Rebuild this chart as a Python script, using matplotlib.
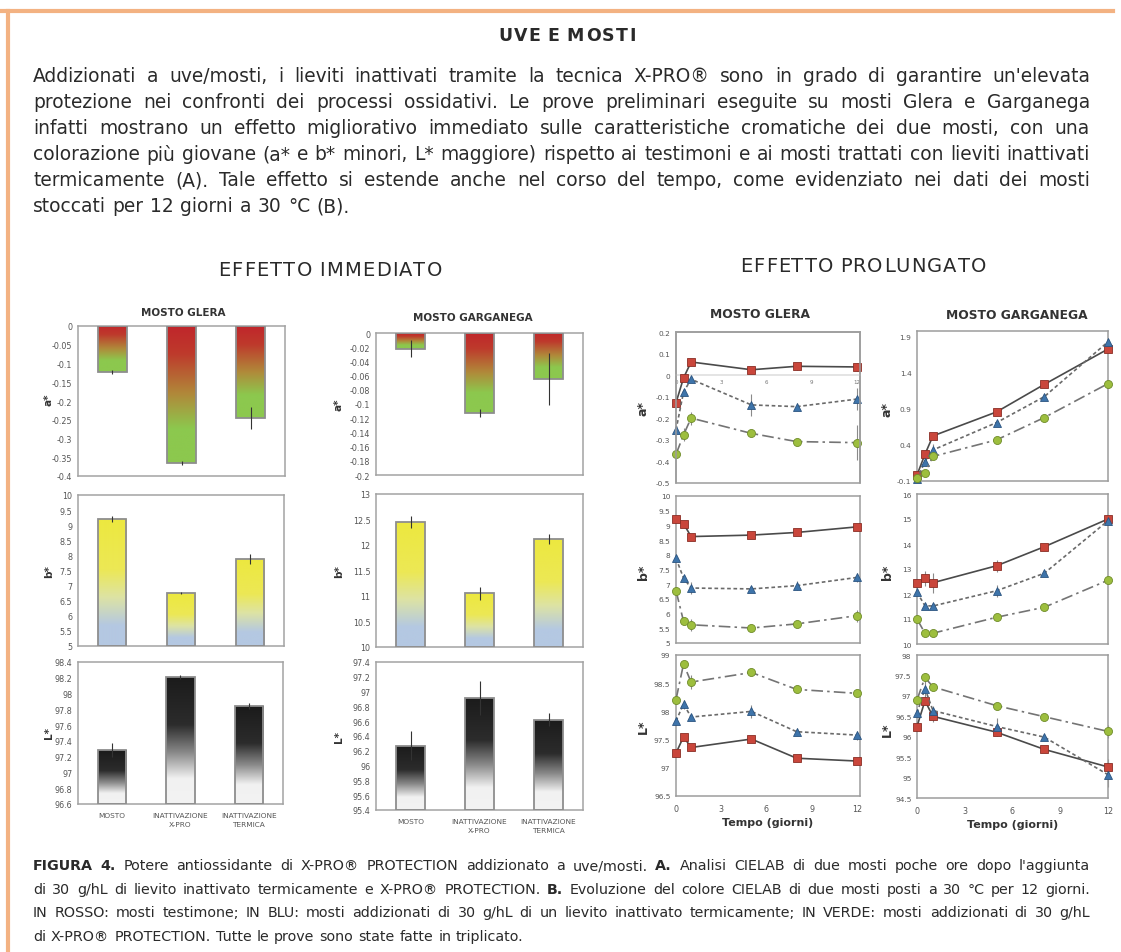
import numpy as np
import matplotlib.pyplot as plt
from matplotlib.patches import Rectangle
from matplotlib.lines import Line2D
from matplotlib.colors import LinearSegmentedColormap
from matplotlib.ticker import FuncFormatter, MultipleLocator

plt.rcParams['font.family'] = ['DejaVu Sans']
plt.rcParams['axes.unicode_minus'] = False

# ---------------- dati: effetto immediato (barre) ----------------
categories = ['MOSTO', 'INATTIVAZIONE\nX-PRO', 'INATTIVAZIONE\nTERMICA']
glera_a = [-0.123, -0.365, -0.245]
glera_a_err = [0.006, 0.005, 0.03]
glera_b = [9.22, 6.75, 7.87]
glera_b_err = [0.1, 0.04, 0.17]
glera_L = [97.28, 98.21, 97.84]
glera_L_err = [0.09, 0.03, 0.04]
garg_a = [-0.022, -0.113, -0.065]
garg_a_err = [0.012, 0.006, 0.037]
garg_b = [12.45, 11.05, 12.12]
garg_b_err = [0.12, 0.12, 0.1]
garg_L = [96.27, 96.92, 96.62]
garg_L_err = [0.2, 0.23, 0.09]

# ---------------- dati: effetto prolungato (linee) ----------------
days = [0, 0.5, 1, 5, 8, 12]
# ctrl = testimone (rosso), term = inattivato termicamente (blu), xpro = X-PRO (verde)
gl_a_ctrl = [-0.128, -0.013, 0.061, 0.025, 0.041, 0.038]
gl_a_term = [-0.254, -0.078, -0.019, -0.138, -0.146, -0.111]
gl_a_xpro = [-0.367, -0.277, -0.199, -0.27, -0.308, -0.313]
gl_a_ctrl_err = [0.01, 0.01, 0.01, 0.01, 0.015, 0.02]
gl_a_term_err = [0.01, 0.01, 0.01, 0.05, 0.015, 0.05]
gl_a_xpro_err = [0.01, 0.03, 0.03, 0.01, 0.01, 0.08]

gl_b_ctrl = [9.23, 9.06, 8.62, 8.67, 8.76, 8.95]
gl_b_term = [7.88, 7.21, 6.87, 6.84, 6.95, 7.23]
gl_b_xpro = [6.78, 5.74, 5.62, 5.51, 5.65, 5.93]
gl_b_ctrl_err = [0.05, 0.05, 0.05, 0.05, 0.05, 0.1]
gl_b_term_err = [0.05, 0.1, 0.22, 0.1, 0.15, 0.15]
gl_b_xpro_err = [0.1, 0.1, 0.2, 0.05, 0.05, 0.2]

gl_L_ctrl = [97.26, 97.55, 97.36, 97.51, 97.17, 97.12]
gl_L_term = [97.83, 98.13, 97.9, 98.0, 97.64, 97.58]
gl_L_xpro = [98.21, 98.84, 98.52, 98.69, 98.39, 98.32]
gl_L_ctrl_err = [0.03, 0.03, 0.03, 0.03, 0.03, 0.03]
gl_L_term_err = [0.03, 0.08, 0.05, 0.12, 0.06, 0.08]
gl_L_xpro_err = [0.03, 0.06, 0.12, 0.03, 0.03, 0.05]

ga_a_ctrl = [-0.017, 0.27, 0.525, 0.858, 1.24, 1.73]
ga_a_term = [-0.077, 0.17, 0.33, 0.71, 1.07, 1.83]
ga_a_xpro = [-0.06, 0.017, 0.24, 0.47, 0.78, 1.25]
ga_a_ctrl_err = [0.02, 0.02, 0.02, 0.02, 0.02, 0.02]
ga_a_term_err = [0.02, 0.02, 0.08, 0.02, 0.02, 0.03]
ga_a_xpro_err = [0.02, 0.02, 0.02, 0.02, 0.02, 0.02]

ga_b_ctrl = [12.43, 12.64, 12.45, 13.13, 13.89, 15.0]
ga_b_term = [12.07, 11.53, 11.52, 12.13, 12.83, 14.93]
ga_b_xpro = [11.0, 10.43, 10.43, 11.07, 11.47, 12.55]
ga_b_ctrl_err = [0.1, 0.3, 0.4, 0.25, 0.1, 0.1]
ga_b_term_err = [0.1, 0.1, 0.1, 0.25, 0.1, 0.1]
ga_b_xpro_err = [0.05, 0.05, 0.05, 0.05, 0.05, 0.05]

ga_L_ctrl = [96.25, 96.88, 96.5, 96.11, 95.69, 95.26]
ga_L_term = [96.58, 97.18, 96.64, 96.25, 95.99, 95.07]
ga_L_xpro = [96.9, 97.45, 97.22, 96.76, 96.49, 96.13]
ga_L_ctrl_err = [0.05, 0.1, 0.15, 0.1, 0.05, 0.2]
ga_L_term_err = [0.1, 0.2, 0.1, 0.2, 0.05, 0.3]
ga_L_xpro_err = [0.1, 0.1, 0.05, 0.05, 0.05, 0.15]

# ---------------- testi ----------------
title = "UVE E MOSTI"
paragraph = [
    "Addizionati a uve/mosti, i lieviti inattivati tramite la tecnica X-PRO® sono in grado di garantire un'elevata",
    "protezione nei confronti dei processi ossidativi. Le prove preliminari eseguite su mosti Glera e Garganega",
    "infatti mostrano un effetto migliorativo immediato sulle caratteristiche cromatiche dei due mosti, con una",
    "colorazione più giovane (a* e b* minori, L* maggiore) rispetto ai testimoni e ai mosti trattati con lieviti inattivati",
    "termicamente (A). Tale effetto si estende anche nel corso del tempo, come evidenziato nei dati dei mosti",
    "stoccati per 12 giorni a 30 °C (B).",
]
caption = [
    "FIGURA 4. Potere antiossidante di X-PRO® PROTECTION addizionato a uve/mosti. A. Analisi CIELAB di due mosti poche ore dopo l'aggiunta",
    "di 30 g/hL di lievito inattivato termicamente e X-PRO® PROTECTION. B. Evoluzione del colore CIELAB di due mosti posti a 30 °C per 12 giorni.",
    "IN ROSSO: mosti testimone; IN BLU: mosti addizionati di 30 g/hL di un lievito inattivato termicamente; IN VERDE: mosti addizionati di 30 g/hL",
    "di X-PRO® PROTECTION. Tutte le prove sono state fatte in triplicato.",
]
caption_bold = {'FIGURA', '4.', 'A.', 'B.'}

W, H = 1121, 953
fig = plt.figure(figsize=(W / 100, H / 100), dpi=100)
renderer = fig.canvas.get_renderer()
TXT = '#2a2a2a'


def add_ax(l, t, r, b):
    return fig.add_axes([l / W, 1 - b / H, (r - l) / W, (b - t) / H])


def fmt_val(v, pos):
    v = round(v, 3) or 0.0
    return f"{v:g}"


def place_tokens(tokens, x0, x1, y, size, justify=True, gap=None, color=TXT):
    arts = [fig.text(0, 1 - y / H, s, fontsize=size, weight=wt, color=color,
                     va='center', ha='left') for s, wt in tokens]
    widths = []
    for (s, wt), a in zip(tokens, arts):
        widths.append(size * 0.33 if s == ' ' else a.get_window_extent(renderer).width)
    if justify and len(arts) > 1:
        gap = (x1 - x0 - sum(widths)) / (len(arts) - 1)
    x = x0
    for a, w in zip(arts, widths):
        a.set_x(x / W)
        x += w + gap


def tracked(s, xc, y, span, size, weight='normal'):
    place_tokens([(c, weight) for c in s], xc - span / 2, xc + span / 2, y, size)


# bordo arancione
fig.add_artist(Line2D([0, 1113 / W], [1 - 12 / H] * 2, color='#F3B282', lw=3))
fig.add_artist(Line2D([8 / W] * 2, [1 - 12 / H, 0], color='#F3B282', lw=3))

# titolo e paragrafo
tracked(title, 567, 36, 138, 12.5, 'bold')
for i, line in enumerate(paragraph):
    last = i == len(paragraph) - 1
    place_tokens([(w, 'normal') for w in line.split()], 33, 1090, 77 + 26 * i, 13.4,
                 justify=not last, gap=6.5)

tracked("EFFETTO IMMEDIATO", 330, 270, 224, 14)
tracked("EFFETTO PROLUNGATO", 863, 267, 246, 14)

# didascalia
for i, line in enumerate(caption):
    last = i == len(caption) - 1
    toks = [(w, 'bold' if w in caption_bold else 'normal') for w in line.split()]
    place_tokens(toks, 33, 1090, 866 + 23.6 * i, 10.3, justify=not last, gap=5)

# ---------------- barre con gradiente ----------------
cm_a = LinearSegmentedColormap.from_list('a', [(0, '#C0262B'), (0.2, '#BE3A2C'), (0.5, '#B08A3A'),
                                               (0.75, '#8CC84E'), (1, '#8CC84E')])
cm_b = LinearSegmentedColormap.from_list('b', [(0, '#EDE83F'), (0.4, '#ECE855'), (0.62, '#DDE3A4'),
                                               (0.84, '#B4C8E2'), (1, '#B4C8E2')])
cm_L = LinearSegmentedColormap.from_list('L', [(0, '#1B1B1B'), (0.38, '#2C2C2C'), (0.6, '#8A8A8A'),
                                               (0.8, '#F1F1F1'), (1, '#F3F3F3')])
grad = np.linspace(0, 1, 256).reshape(-1, 1)


def grad_bars(ax, vals, errs, base, cmap, ylim, step, xlabels=False):
    bw = 0.41
    for i, (v, e) in enumerate(zip(vals, errs)):
        rect = Rectangle((i - bw / 2, base), bw, v - base, fc='none', ec='#8E8E8E', lw=1.3, zorder=3)
        ax.add_patch(rect)
        im = ax.imshow(grad, extent=(i - bw / 2, i + bw / 2, min(v, base), max(v, base)),
                       origin='upper', cmap=cmap, aspect='auto', zorder=2)
        im.set_clip_path(rect)
        ax.errorbar(i, v, yerr=e, fmt='none', ecolor='#333333', elinewidth=0.8, capsize=0, zorder=4)
    ax.set_xlim(-0.5, 2.5)
    ax.set_ylim(*ylim)
    ax.yaxis.set_major_locator(MultipleLocator(step))
    ax.yaxis.set_major_formatter(FuncFormatter(fmt_val))
    ax.tick_params(length=0, labelsize=5.8, labelcolor='#555555', pad=4)
    if xlabels:
        ax.set_xticks(range(3))
        ax.set_xticklabels(categories, fontsize=5.3, color='#555555', linespacing=1.6)
        ax.tick_params(axis='x', pad=6)
    else:
        ax.set_xticks([])
    for sp in ax.spines.values():
        sp.set_color('#A3A3A3')
        sp.set_linewidth(1.1)


ax = add_ax(78, 327, 285, 477)
grad_bars(ax, glera_a, glera_a_err, 0, cm_a, (-0.4, 0), 0.05)
ax = add_ax(78, 496, 284, 647)
grad_bars(ax, glera_b, glera_b_err, 5, cm_b, (5, 10), 0.5)
ax = add_ax(78, 663, 283, 805)
grad_bars(ax, glera_L, glera_L_err, 96.6, cm_L, (96.6, 98.4), 0.2, xlabels=True)

ax = add_ax(376, 334, 583, 476)
grad_bars(ax, garg_a, garg_a_err, 0, cm_a, (-0.2, 0), 0.02)
ax = add_ax(376, 495, 583, 648)
grad_bars(ax, garg_b, garg_b_err, 10, cm_b, (10, 13), 0.5)
ax = add_ax(376, 663, 583, 811)
grad_bars(ax, garg_L, garg_L_err, 95.4, cm_L, (95.4, 97.4), 0.2, xlabels=True)

fig.text(183 / W, 1 - 313 / H, "MOSTO GLERA", fontsize=7.5, weight='bold', color='#333', ha='center', va='center')
fig.text(473 / W, 1 - 318 / H, "MOSTO GARGANEGA", fontsize=7.5, weight='bold', color='#333', ha='center', va='center')
for lab, yy in [("a*", 400), ("b*", 572), ("L*", 733)]:
    fig.text(49 / W, 1 - yy / H, lab, fontsize=7.5, weight='bold', rotation=90, color='#333', ha='center', va='center')
for lab, yy in [("a*", 405), ("b*", 572), ("L*", 737)]:
    fig.text(339 / W, 1 - yy / H, lab, fontsize=7.5, weight='bold', rotation=90, color='#333', ha='center', va='center')

# ---------------- linee nel tempo ----------------
styles = [
    dict(color='#4A4A4A', ls='-', marker='s', mfc='#C9463B', mec='#8A2E25'),
    dict(color='#6A6A6A', ls=(0, (2.2, 1.6)), marker='^', mfc='#3E74AA', mec='#2B5480'),
    dict(color='#747474', ls=(0, (7, 2.5, 1.5, 2.5)), marker='o', mfc='#9DBE3E', mec='#6F8C2A'),
]


def time_panel(ax, series, errs, ylim, ticks, xlim, xlabels=False, zero_axis=False):
    for vals, err, st in zip(series, errs, styles):
        ax.errorbar(days, vals, yerr=err, fmt='none', ecolor='#8A8A8A', elinewidth=0.8, capsize=0,
                    zorder=2, clip_on=False)
        ax.plot(days, vals, lw=1.2, ms=5.8, mew=0.6, zorder=3, clip_on=False, **st)
    ax.set_xlim(*xlim)
    ax.set_ylim(*ylim)
    ax.set_yticks(ticks)
    ax.yaxis.set_major_formatter(FuncFormatter(fmt_val))
    ax.tick_params(length=0, labelsize=5.3, labelcolor='#555555', pad=4)
    ax.set_xticks([0, 3, 6, 9, 12])
    for sp in ax.spines.values():
        sp.set_color('#9C9C9C')
        sp.set_linewidth(1.1)
    if zero_axis:
        ax.spines['bottom'].set_position(('data', 0))
        ax.spines['bottom'].set_color('#DDDDDD')
        ax.add_patch(Rectangle((0, 0), 1, 1, transform=ax.transAxes, fill=False,
                               ec='#9C9C9C', lw=1.1, clip_on=False, zorder=5))
        ax.tick_params(axis='x', labelsize=4, labelcolor='#777777', pad=3)
    elif xlabels:
        ax.tick_params(axis='x', labelsize=5.8, pad=6)
        ax.set_xlabel("Tempo (giorni)", fontsize=8, weight='bold', color='#333', labelpad=3)
    else:
        ax.set_xticklabels([])


ax = add_ax(676, 333, 860, 484)
time_panel(ax, [gl_a_ctrl, gl_a_term, gl_a_xpro], [gl_a_ctrl_err, gl_a_term_err, gl_a_xpro_err],
           (-0.5, 0.2), np.arange(-0.5, 0.21, 0.1), (0, 12.2), zero_axis=True)
ax = add_ax(676, 497, 860, 644)
time_panel(ax, [gl_b_ctrl, gl_b_term, gl_b_xpro], [gl_b_ctrl_err, gl_b_term_err, gl_b_xpro_err],
           (5, 10), np.arange(5, 10.01, 0.5), (0, 12.2))
ax = add_ax(676, 656, 860, 797)
time_panel(ax, [gl_L_ctrl, gl_L_term, gl_L_xpro], [gl_L_ctrl_err, gl_L_term_err, gl_L_xpro_err],
           (96.5, 99), np.arange(96.5, 99.01, 0.5), (0, 12.2), xlabels=True)

ax = add_ax(917, 332, 1108, 482)
time_panel(ax, [ga_a_ctrl, ga_a_term, ga_a_xpro], [ga_a_ctrl_err, ga_a_term_err, ga_a_xpro_err],
           (-0.1, 1.98), np.arange(-0.1, 1.91, 0.5), (0, 12))
ax = add_ax(917, 495, 1108, 645)
time_panel(ax, [ga_b_ctrl, ga_b_term, ga_b_xpro], [ga_b_ctrl_err, ga_b_term_err, ga_b_xpro_err],
           (10, 16), np.arange(10, 16.01, 1), (0, 12))
ax = add_ax(917, 656, 1108, 799)
time_panel(ax, [ga_L_ctrl, ga_L_term, ga_L_xpro], [ga_L_ctrl_err, ga_L_term_err, ga_L_xpro_err],
           (94.5, 98), np.arange(94.5, 98.01, 0.5), (0, 12), xlabels=True)

fig.text(760 / W, 1 - 315 / H, "MOSTO GLERA", fontsize=8.8, weight='bold', color='#333', ha='center', va='center')
fig.text(1017 / W, 1 - 316 / H, "MOSTO GARGANEGA", fontsize=8.8, weight='bold', color='#333', ha='center', va='center')
for lab, yy in [("a*", 408), ("b*", 572), ("L*", 727)]:
    fig.text(643 / W, 1 - yy / H, lab, fontsize=9, weight='bold', rotation=90, color='#333', ha='center', va='center')
for lab, yy in [("a*", 410), ("b*", 572), ("L*", 730)]:
    fig.text(887 / W, 1 - yy / H, lab, fontsize=9, weight='bold', rotation=90, color='#333', ha='center', va='center')

fig.savefig('out.png', dpi=100, facecolor='white')
